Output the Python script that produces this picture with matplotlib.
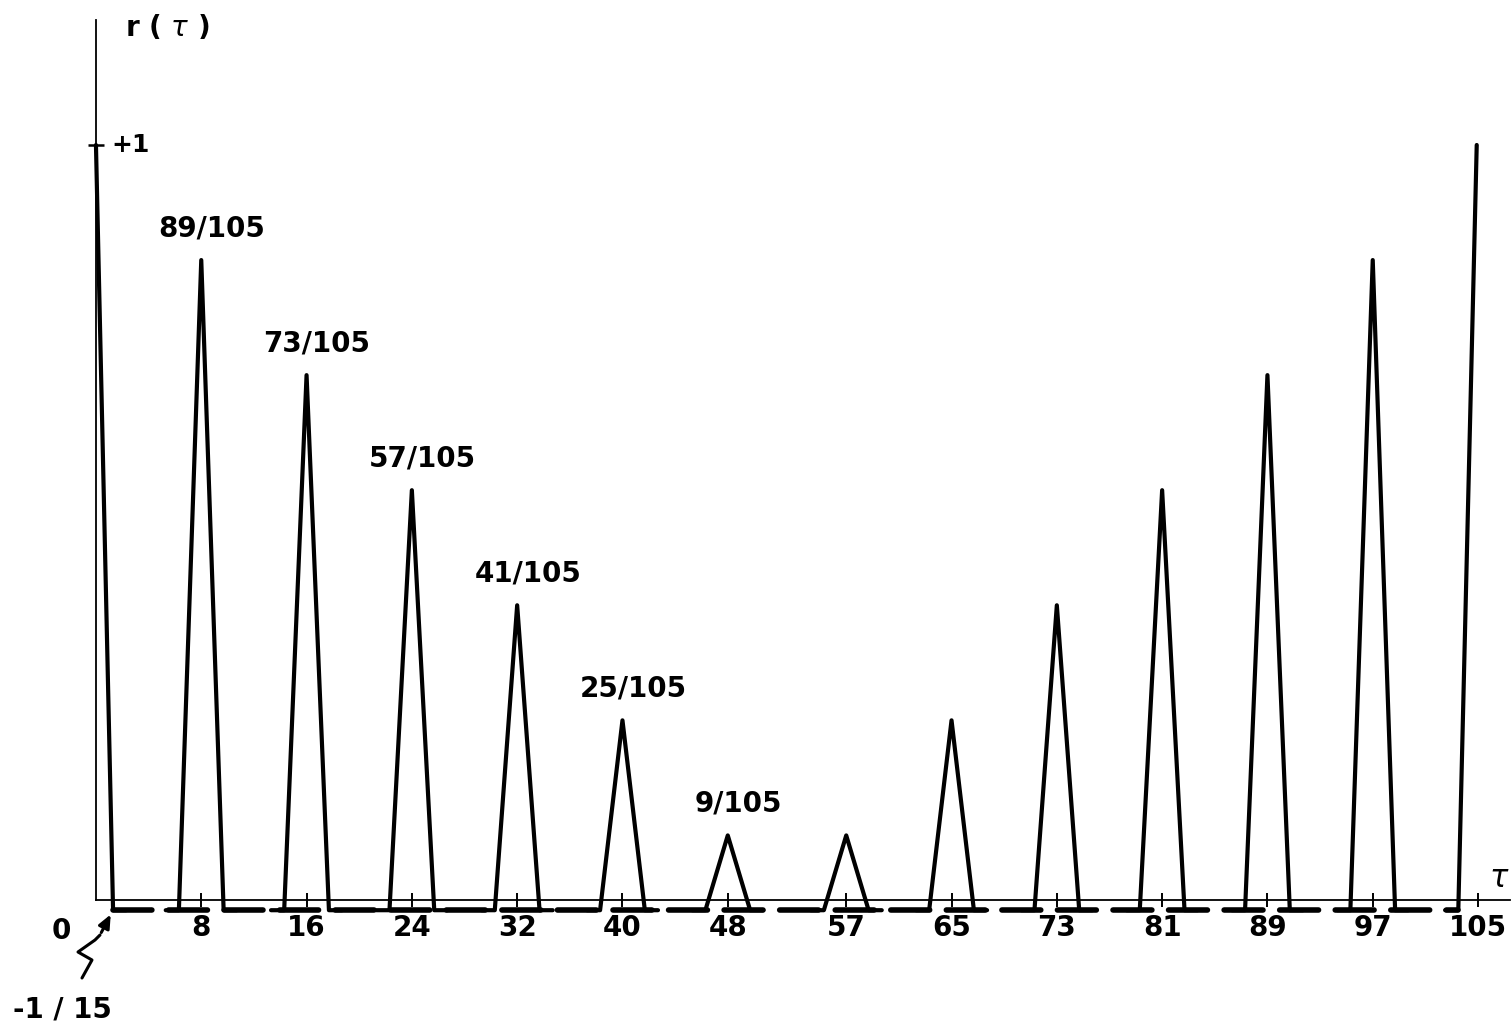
import numpy as np
import matplotlib
matplotlib.use("Agg")
import matplotlib.pyplot as plt
import matplotlib.transforms as mtransforms

# autocorrelation r(tau) of the sequence, peaks at the listed shifts
taus = [0, 8, 16, 24, 32, 40, 48, 57, 65, 73, 81, 89, 97, 105]
numerators = [105, 89, 73, 57, 41, 25, 9, 9, 25, 41, 57, 73, 89, 105]
period = 105
floor_value = -1 / 15
labelled_peaks = [8, 16, 24, 32, 40, 48]

r_peak = [n / period for n in numerators]

W, H = 1512, 1027
fig = plt.figure(figsize=(W / 100, H / 100), dpi=100)
ax = fig.add_axes([0, 0, 1, 1])

# negative side is drawn squashed, as in the sketch
squash = 0.2
ax.set_yscale('function', functions=(lambda y: np.where(y < 0, y * squash, y),
                                     lambda y: np.where(y < 0, y / squash, y)))
ax.set_xlim(-7.29, 107.58)
ax.set_ylim(-0.168 / squash, 1.192)

half_w = 1.7
foot = 1.0
lw = 3.0

# dashed floor between peaks
ax.plot([taus[0] + 1.3, taus[-1] - 1.5], [floor_value, floor_value], color='black',
        lw=4.0, dashes=(7, 3), solid_capstyle='round', dash_capstyle='round')

# peak at tau = 0 (falls from +1 straight down to the floor)
ax.plot([taus[0], taus[0] + 1.3, taus[0] + 1.3 + foot],
        [r_peak[0], floor_value, floor_value], color='black', lw=lw,
        solid_joinstyle='round', solid_capstyle='round')

# intermediate triangular peaks
for t, r in zip(taus[1:-1], r_peak[1:-1]):
    xs = [t - half_w - foot, t - half_w, t, t + half_w, t + half_w + foot]
    ys = [floor_value, floor_value, r, floor_value, floor_value]
    ax.plot(xs, ys, color='black', lw=lw, solid_joinstyle='round', solid_capstyle='round')

# peak at tau = 105
ax.plot([taus[-1] - 1.5 - foot, taus[-1] - 1.5, taus[-1] - 0.1],
        [floor_value, floor_value, r_peak[-1]], color='black', lw=lw,
        solid_joinstyle='round', solid_capstyle='round')

# peak value labels
for t, n, r in zip(taus, numerators, r_peak):
    if t in labelled_peaks:
        ax.text(t + 0.8, r + 0.042, f"{n}/{period}", ha='center', va='center',
                fontsize=20, fontweight='bold')

# axes drawn like the sketch
for s in ['top', 'right']:
    ax.spines[s].set_visible(False)
ax.spines['left'].set_position(('data', 0))
ax.spines['bottom'].set_position(('data', 0))
ax.spines['left'].set_bounds(0, 1.166)
ax.spines['bottom'].set_bounds(0, 107.4)
ax.spines['left'].set_linewidth(1.3)
ax.spines['bottom'].set_linewidth(1.3)

ax.set_xticks(taus[1:])
ax.set_xticklabels([str(t) for t in taus[1:]], fontsize=20, fontweight='bold')
ax.tick_params(axis='x', direction='inout', length=10, width=1.4, pad=5)
ax.set_yticks([1])
ax.set_yticklabels([])
ax.tick_params(axis='y', direction='inout', length=12, width=1.8)
ax.minorticks_off()

ax.text(taus[0] - 2.6, 0, "0", ha='center', va='top', fontsize=20, fontweight='bold',
        transform=ax.transData + mtransforms.ScaledTranslation(0, -12 / 72, fig.dpi_scale_trans))
ax.text(2.6, 1.0, "+1", ha='center', va='center', fontsize=18, fontweight='bold')
ax.text(5.4, 1.155, r"r ( $\tau$ )", ha='center', va='center', fontsize=20, fontweight='bold')
ax.text(106.6, 0.028, r"$\tau$", ha='center', va='center', fontsize=22)

# pointer to the floor value
pix = mtransforms.Affine2D().scale(1, -1).translate(0, H)
ax.text(62, 1010, "-1 / 15", ha='center', va='center', fontsize=20, fontweight='bold',
        transform=pix)
sq_x = [82, 92, 78, 95, 100]
sq_y = [978, 960, 952, 940, 935]
ax.plot(sq_x, sq_y, color='black', lw=2.2, transform=pix, solid_capstyle='round')
ax.annotate("", xy=(112, 912), xytext=(100, 935), xycoords=pix, textcoords=pix,
            arrowprops=dict(arrowstyle='-|>,head_length=0.8,head_width=0.35',
                            color='black', lw=2.2))

fig.savefig("out.png", dpi=100)
